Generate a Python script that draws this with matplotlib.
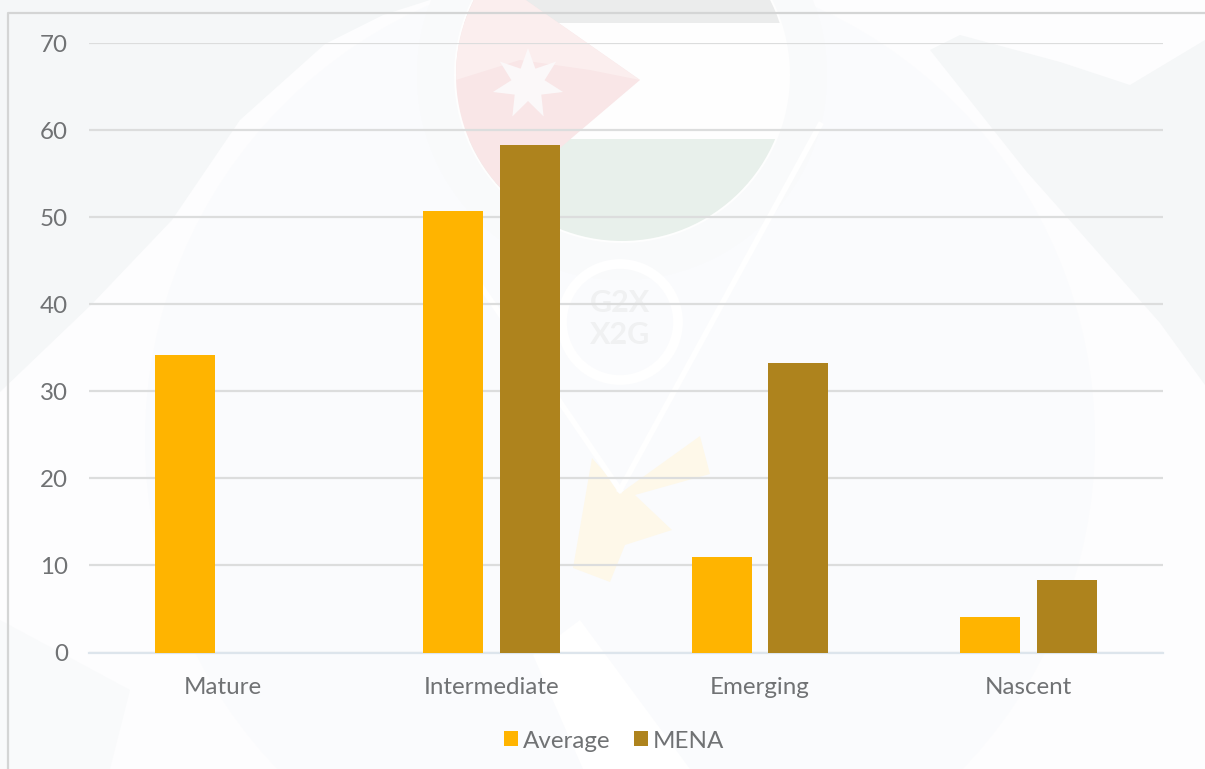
import matplotlib
matplotlib.use("Agg")
import matplotlib.pyplot as plt
import numpy as np
from matplotlib.patches import Circle, Polygon, Rectangle

categories = ["Mature", "Intermediate", "Emerging", "Nascent"]
average = [34.2, 50.7, 11.0, 4.1]
mena = [np.nan, 58.3, 33.3, 8.3]
y_ticks = [0, 10, 20, 30, 40, 50, 60, 70]

W, H = 1205, 769
plt.rcParams['font.family'] = ['Lato', 'DejaVu Sans']
fig = plt.figure(figsize=(W / 100, H / 100), dpi=100, facecolor='#fdfdfe')

# Decorative watermark, in pixel coordinates of the figure
bg = fig.add_axes([0, 0, 1, 1], zorder=0)
bg.set_xlim(0, W); bg.set_ylim(H, 0); bg.axis('off')
GREY = '#f5f7f8'
bg.add_patch(Polygon([[0, 0], [430, 0], [383, 15], [325, 44], [240, 120], [172, 220], [92, 304], [0, 392]],
                     fc=GREY, ec='none'))
bg.add_patch(Polygon([[930, 50], [960, 35], [1060, 62], [1130, 85], [1205, 40], [1205, 385],
                      [1160, 323], [1065, 215], [1026, 171]], fc=GREY, ec='none'))
bg.add_patch(Polygon([[0, 620], [130, 690], [110, H], [0, H]], fc='#f9fafb', ec='none'))
bg.add_patch(Circle((620, 440), 475, fc='#fafbfd', ec='none'))
bg.add_patch(Polygon([[533, 655], [580, 620], [690, H], [583, H]], fc='#ffffff', ec='none'))
# Pin
bg.add_patch(Circle((622, 75), 205, fc='#f9fafb', ec='none'))
bg.add_patch(Circle((622, 75), 168, fc='#fefefe', ec='none'))
# Flag bands clipped by the circle
clip = Circle((622, 75), 166, transform=bg.transData)
for y0, y1, col in [(-100, 23, '#ebecec'), (23, 139, '#fefefe'), (139, 260, '#e8f0eb')]:
    r = Rectangle((440, y0), 360, y1 - y0, fc=col, ec='none')
    bg.add_patch(r); r.set_clip_path(clip)
tri = Polygon([[440, -60], [640, 80], [440, 250]], fc='#f9e6e7', ec='none')
bg.add_patch(tri); tri.set_clip_path(clip)
tri_top = Polygon([[440, -60], [640, 80], [590, 70], [520, 60], [440, 85]], fc='#fbeeee', ec='none')
bg.add_patch(tri_top); tri_top.set_clip_path(clip)
star_a = np.deg2rad(np.arange(14) * 360 / 14 - 90)
star_r = np.where(np.arange(14) % 2 == 0, 36, 17)
bg.add_patch(Polygon(np.c_[528 + star_r * np.cos(star_a), 84 + star_r * np.sin(star_a)],
                     fc='#fbf8f9', ec='none'))
# Pin outline lines and badge
bg.plot([820, 620], [125, 490], color='#ffffff', lw=4)
bg.plot([470, 620], [270, 490], color='#ffffff', lw=4)
bg.add_patch(Circle((620, 322), 58, fc='none', ec='#ffffff', lw=7))
bg.text(620, 303, "G2X", ha='center', va='center', fontsize=22, fontweight='bold', color='#f0f1f2')
bg.text(620, 335, "X2G", ha='center', va='center', fontsize=22, fontweight='bold', color='#f0f1f2')
# Map shape
bg.add_patch(Polygon([[592, 458], [622, 492], [700, 436], [710, 474], [635, 495], [672, 530],
                      [625, 545], [610, 582], [573, 568]], fc='#fef8e9', ec='none'))
# Frame
bg.plot([8, 8, W], [H, 13, 13], color='#d4d5d5', lw=1.6)

x0, x1 = 88.6, 1162.6
ytop, ybot = 43, 652.5
ax = fig.add_axes([x0 / W, 1 - ybot / H, (x1 - x0) / W, (ybot - ytop) / H], zorder=1)
ax.patch.set_alpha(0)
x = np.arange(len(categories))
bw = 60 / 268.5
off = 38.2 / 268.5
ax.bar(x - off, average, bw, color='#ffb400', label='Average', zorder=3)
ax.bar(x + off, mena, bw, color='#ae831d', label='MENA', zorder=3)
ax.set_xlim(-0.5, len(categories) - 0.5)
ax.set_ylim(0, 70)
ax.set_yticks(y_ticks)
ax.set_xticks(x, categories)
ax.grid(axis='y', color='#dcdddd', lw=1.6, zorder=1)
ax.set_axisbelow(True)
for s in ['top', 'left', 'right']:
    ax.spines[s].set_visible(False)
ax.spines['bottom'].set_color('#dde5ec')
ax.spines['bottom'].set_linewidth(1.6)
ax.spines['bottom'].set_zorder(2)
ax.tick_params(axis='both', length=0, labelsize=17.4, labelcolor='#707274')
ax.tick_params(axis='x', pad=17.5)
ax.tick_params(axis='y', pad=15)
leg = fig.legend(loc='center', bbox_to_anchor=(614 / W, 1 - 741 / H), ncol=2, frameon=False,
                 fontsize=17.4, handlelength=0.58, handleheight=0.58, handletextpad=0.2,
                 columnspacing=0.95, labelcolor='#707274')
fig.savefig('out.png', dpi=100, facecolor=fig.get_facecolor())
